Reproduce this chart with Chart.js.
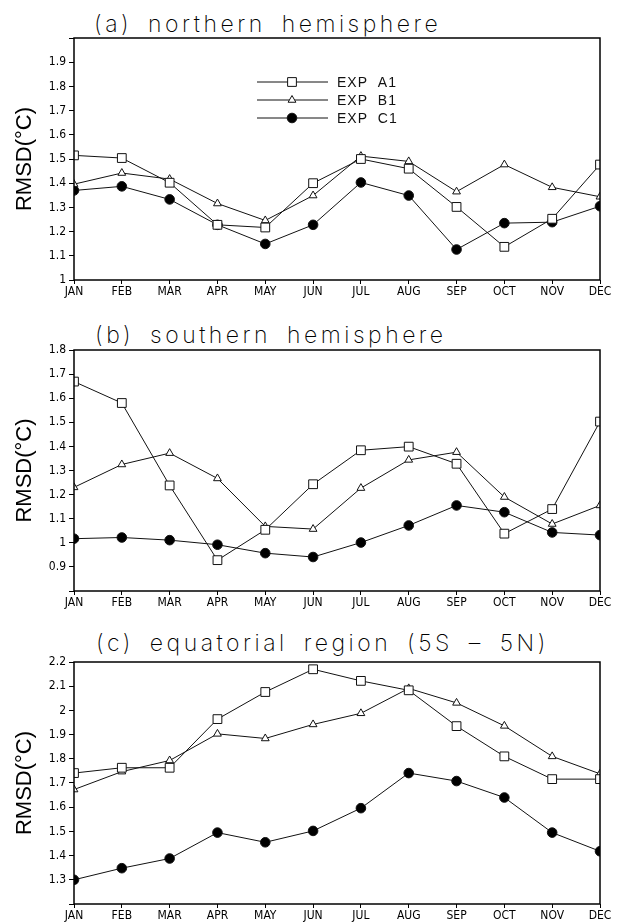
<!DOCTYPE html>
<html>
<head>
<meta charset="utf-8">
<script src="https://cdn.jsdelivr.net/npm/chart.js@4"></script>
<style>
  body { margin: 0; background: #fff; }
  #page { position: relative; width: 622px; height: 924px; overflow: hidden; }
  .panel { position: absolute; left: 0; width: 622px; }
  .title {
    position: absolute;
    font-family: Inter, 'DejaVu Sans', sans-serif;
    font-weight: 200;
    font-size: 23px;
    line-height: 1;
    letter-spacing: 3.5px;
    word-spacing: 6px;
    color: #000;
    white-space: pre;
  }
</style>
</head>
<body>
<div id="page">
  <div class="title" id="title-a" style="left:94px;top:13px;">(a) northern hemisphere</div>
  <div class="panel" style="top:0;height:305px;"><canvas id="chart-a"></canvas></div>

  <div class="title" id="title-b" style="left:95px;top:324px;">(b) southern hemisphere</div>
  <div class="panel" style="top:305px;height:310px;"><canvas id="chart-b"></canvas></div>

  <div class="title" id="title-c" style="left:96px;top:632px;">(c) equatorial region (5S &#8211; 5N)</div>
  <div class="panel" style="top:615px;height:309px;"><canvas id="chart-c"></canvas></div>
</div>

<script>
// month labels
var months = ['JAN','FEB','MAR','APR','MAY','JUN','JUL','AUG','SEP','OCT','NOV','DEC'];
var seriesNames = ['EXP  A1', 'EXP  B1', 'EXP  C1'];

// (a) northern hemisphere
var nhA1 = [1.515, 1.504, 1.402, 1.228, 1.217, 1.400, 1.500, 1.460, 1.302, 1.137, 1.253, 1.477];
var nhB1 = [1.396, 1.442, 1.417, 1.316, 1.246, 1.349, 1.512, 1.490, 1.365, 1.477, 1.383, 1.344];
var nhC1 = [1.370, 1.387, 1.333, 1.228, 1.149, 1.228, 1.403, 1.349, 1.126, 1.235, 1.239, 1.305];
var nhTicks = ['1','1.1','1.2','1.3','1.4','1.5','1.6','1.7','1.8','1.9'];

// (b) southern hemisphere
var shA1 = [1.669, 1.580, 1.238, 0.928, 1.054, 1.243, 1.384, 1.399, 1.328, 1.038, 1.140, 1.503];
var shB1 = [1.230, 1.325, 1.372, 1.267, 1.068, 1.057, 1.227, 1.344, 1.376, 1.190, 1.078, 1.155];
var shC1 = [1.017, 1.022, 1.011, 0.992, 0.957, 0.941, 1.001, 1.072, 1.155, 1.127, 1.043, 1.032];
var shTicks = ['0.9','1','1.1','1.2','1.3','1.4','1.5','1.6','1.7','1.8'];

// (c) equatorial region
var eqA1 = [1.741, 1.763, 1.763, 1.964, 2.076, 2.170, 2.122, 2.083, 1.935, 1.810, 1.716, 1.716];
var eqB1 = [1.673, 1.747, 1.793, 1.903, 1.884, 1.942, 1.988, 2.091, 2.031, 1.936, 1.810, 1.738];
var eqC1 = [1.300, 1.348, 1.388, 1.495, 1.455, 1.502, 1.596, 1.741, 1.708, 1.640, 1.495, 1.418];
var eqTicks = ['1.3','1.4','1.5','1.6','1.7','1.8','1.9','2','2.1','2.2'];

var tickFont = { family: "'Liberation Sans Narrow', 'DejaVu Sans Condensed', 'Liberation Sans', sans-serif", size: 12 };

// box round the plot area
var framePlugin = {
    id: 'frame',
    afterDraw: function(chart) {
        var a = chart.chartArea, ctx = chart.ctx;
        ctx.save();
        ctx.strokeStyle = '#000';
        ctx.lineWidth = 1.5;
        ctx.strokeRect(a.left, a.top, a.right - a.left, a.bottom - a.top);
        ctx.restore();
    }
};

// legend drawn inside the plot, line with marker in the middle
var insideLegend = {
    id: 'insideLegend',
    afterDraw: function(chart, args, opts) {
        if (!opts.show) return;
        var a = chart.chartArea, ctx = chart.ctx;
        chart.data.datasets.forEach(function(ds, i) {
            var y = a.top + 44 + i * 18;
            var x0 = a.left + 183, x1 = a.left + 254, xm = a.left + 218;
            ctx.save();
            ctx.strokeStyle = '#111';
            ctx.lineWidth = 1;
            ctx.beginPath();
            ctx.moveTo(x0, y);
            ctx.lineTo(x1, y);
            ctx.stroke();
            ctx.fillStyle = ds.pointBackgroundColor;
            ctx.strokeStyle = '#111';
            Chart.helpers.drawPoint(ctx, {
                pointStyle: ds.pointStyle,
                radius: ds.pointRadius,
                borderWidth: 1,
                rotation: 0
            }, xm, y);
            ctx.fillStyle = '#111';
            ctx.font = "14px 'Liberation Sans', Arial, sans-serif";
            ctx.letterSpacing = '1px';
            ctx.textBaseline = 'middle';
            ctx.fillText(ds.label, a.left + 263, y + 1);
            ctx.restore();
        });
    }
};

function makeChart(id, a1, b1, c1, yMin, yMax, tickLabels, padTop, padBottom, xHeight, legend) {
    var ctx = document.getElementById(id).getContext('2d');
    var style = function(label, data, pStyle, radius, fill) {
        return {
            label: label,
            data: data,
            borderColor: '#111',
            borderWidth: 1,
            pointStyle: pStyle,
            pointRadius: radius,
            pointBorderWidth: 1,
            pointBorderColor: '#111',
            pointBackgroundColor: fill,
            tension: 0,
            clip: 0
        };
    };
    return new Chart(ctx, {
        type: 'line',
        data: {
            labels: months,
            datasets: [
                style(seriesNames[0], a1, 'rect', 6.2, '#fff'),
                style(seriesNames[1], b1, 'triangle', 4.5, '#fff'),
                style(seriesNames[2], c1, 'circle', 4.8, '#000')
            ]
        },
        options: {
            responsive: true,
            maintainAspectRatio: false,
            animation: false,
            layout: { padding: { left: 0, right: 22, top: padTop, bottom: padBottom } },
            plugins: {
                legend: { display: false },
                tooltip: { enabled: false },
                insideLegend: { show: legend }
            },
            scales: {
                x: {
                    type: 'category',
                    offset: false,
                    border: { display: false },
                    grid: { drawOnChartArea: false, drawTicks: true, tickLength: 4, color: '#000' },
                    ticks: { color: '#000', font: tickFont, padding: 1, autoSkip: false, maxRotation: 0 },
                    afterFit: function(scale) { scale.height = xHeight; }
                },
                y: {
                    min: yMin,
                    max: yMax,
                    border: { display: false },
                    grid: { drawOnChartArea: false, drawTicks: true, tickLength: 5, color: '#000' },
                    ticks: {
                        stepSize: 0.1,
                        color: '#000',
                        font: tickFont,
                        padding: 3,
                        callback: function(value) {
                            var s = String(+value.toFixed(1));
                            return tickLabels.indexOf(s) >= 0 ? s : '';
                        }
                    },
                    title: {
                        display: true,
                        text: 'RMSD(°C)',
                        color: '#000',
                        font: { family: "'Liberation Sans', Arial, sans-serif", size: 22 },
                        padding: { top: 12, bottom: 0 }
                    },
                    afterFit: function(scale) { scale.width = 74; }
                }
            }
        },
        plugins: [framePlugin, insideLegend]
    });
}

makeChart('chart-a', nhA1, nhB1, nhC1, 1.0, 2.0, nhTicks, 38, 3, 22, true);
makeChart('chart-b', shA1, shB1, shC1, 0.8, 1.8, shTicks, 45, 2, 22, false);
makeChart('chart-c', eqA1, eqB1, eqC1, 1.2, 2.2, eqTicks, 47, 2, 18, false);
</script>
</body>
</html>
